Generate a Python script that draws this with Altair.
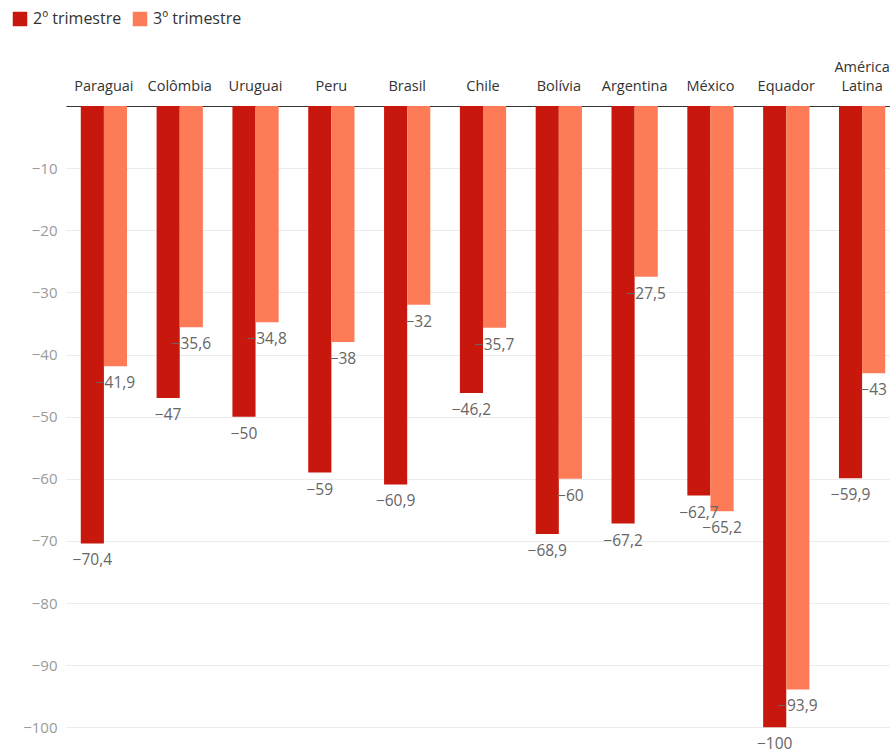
import altair as alt
import pandas as pd

categories = ["Paraguai", "Colômbia", "Uruguai", "Peru", "Brasil", "Chile",
              "Bolívia", "Argentina", "México", "Equador", "América Latina"]
q2 = [-70.4, -47, -50, -59, -60.9, -46.2, -68.9, -67.2, -62.7, -100, -59.9]
q3 = [-41.9, -35.6, -34.8, -38, -32, -35.7, -60, -27.5, -65.2, -93.9, -43]
series = ["2º trimestre", "3º trimestre"]
colors = ["#C8170C", "#FD7C57"]
y_ticks = [-10, -20, -30, -40, -50, -60, -70, -80, -90, -100]


def fmt(v):
    s = f"{abs(v):g}".replace(".", ",")
    return ("\u2212" + s) if v < 0 else s


rows = []
for c, a, b in zip(categories, q2, q3):
    for s, v in zip(series, (a, b)):
        rows.append({"pais": c, "serie": s, "valor": v, "rotulo": fmt(v)})
df = pd.DataFrame(rows)

x_enc = alt.X(
    "pais:N", sort=categories,
    scale=alt.Scale(range=[0, 834], paddingInner=0.39, paddingOuter=0.195),
    axis=alt.Axis(
        orient="top", title=None, labelAngle=0, ticks=False,
        labelPadding=32, labelColor="#333333", labelFontSize=14.5,
        labelLineHeight=19,
        labelExpr="datum.value == 'América Latina' ? ['América', 'Latina'] : ['', datum.value]",
        domainColor="#333333", domainWidth=1.2,
    ),
)
xoff = alt.XOffset("serie:N", sort=series,
                   scale=alt.Scale(paddingInner=0, paddingOuter=0))
y_enc = alt.Y(
    "valor:Q",
    scale=alt.Scale(domain=[-103, 0], nice=False, zero=False),
    axis=alt.Axis(
        title=None, values=y_ticks, domain=False, ticks=False,
        labelPadding=9, labelColor="#9a9a9a", labelFontSize=15,
        gridColor="#ebebeb",
    ),
)

bars = alt.Chart(df).mark_bar().encode(
    x=x_enc, xOffset=xoff, y=y_enc,
    color=alt.Color(
        "serie:N", sort=series,
        scale=alt.Scale(domain=series, range=colors),
        legend=alt.Legend(
            title=None, orient="none", legendX=-54, legendY=-95,
            direction="horizontal", symbolType="square", symbolSize=210,
            symbolStrokeWidth=0, labelFontSize=16, labelColor="#333333",
            labelOffset=5, columnPadding=10, padding=0,
        ),
    ),
)

labels = alt.Chart(df).mark_text(
    dy=17, baseline="middle", align="center", fontSize=15.5, color="#666666"
).encode(x=x_enc, xOffset=xoff, y=y_enc, text="rotulo:N")

chart = alt.layer(bars, labels).properties(
    width=824, height=640,
    autosize=alt.AutoSizeParams(type="none"),
    padding={"left": 66, "top": 106, "right": 0, "bottom": 4},
).configure(font="Open Sans").configure_view(stroke=None)

chart.save("out.html", embed_options={"renderer": "svg", "actions": False})
